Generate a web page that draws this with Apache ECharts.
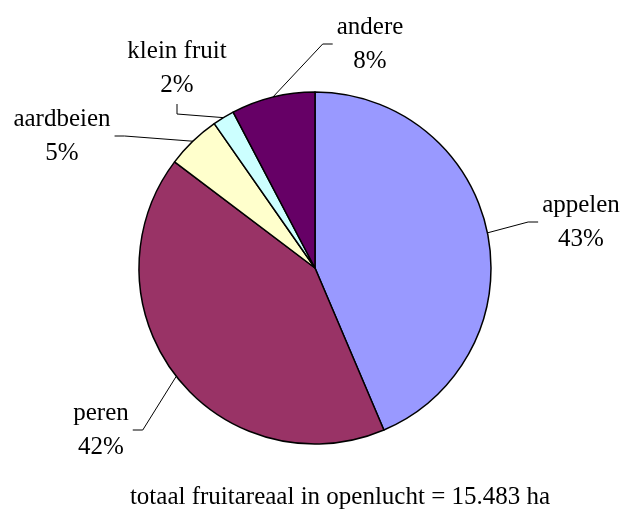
<!DOCTYPE html>
<html>
<head>
<meta charset="utf-8">
<script src="https://cdn.jsdelivr.net/npm/echarts@6/dist/echarts.min.js"></script>
<style>
  html, body { margin: 0; padding: 0; background: #fff; }
  #chart { width: 627px; height: 513px; }
</style>
</head>
<body>
<div id="chart"></div>
<script>
const categories = ['appelen', 'peren', 'aardbeien', 'klein fruit', 'andere']
const shares = [43.6, 41.7, 5.0, 2.0, 7.7]
const colors = ['#9999ff', '#993366', '#ffffcc', '#ccffff', '#660066']
const caption = 'totaal fruitareaal in openlucht = 15.483 ha'

// where each label sits relative to the pie centre, and the side its leader line joins
const labelSpots = [
  [266, -46, 'left'],
  [-214, 162, 'right'],
  [-253, -132, 'right'],
  [-138, -200, 'bottom'],
  [55, -224, 'left']
]
const cx = 315
const cy = 268
const font = '"Liberation Serif", "Times New Roman", serif'

const chart = echarts.init(document.getElementById('chart'))

const option = {
  animation: false,
  color: colors,
  graphic: [{
    type: 'text',
    x: 340,
    y: 497,
    style: {
      text: caption,
      fontFamily: font,
      fontSize: 25,
      fill: '#000',
      align: 'center',
      verticalAlign: 'middle'
    }
  }],
  series: [{
    type: 'pie',
    center: [cx, cy],
    radius: 176,
    startAngle: 90,
    clockwise: true,
    percentPrecision: 0,
    itemStyle: {
      borderColor: '#000',
      borderWidth: 1.5
    },
    label: {
      show: true,
      position: 'outside',
      formatter: '{b}\n{d}%',
      fontFamily: font,
      fontSize: 25,
      lineHeight: 34,
      color: '#000'
    },
    labelLine: {
      show: true,
      length: 15,
      length2: 10,
      lineStyle: {
        color: '#000',
        width: 1
      }
    },
    labelLayout: function(p) {
      const s = labelSpots[p.dataIndex]
      const x = cx + s[0]
      const y = cy + s[1]
      const w = p.labelRect.width
      const h = p.labelRect.height
      const start = p.labelLinePoints ? p.labelLinePoints[0] : [x, y]
      let end, bend
      if (s[2] === 'left') {
        end = [x - w / 2 - 4, y]
        bend = [end[0] - 10, y]
      } else if (s[2] === 'right') {
        end = [x + w / 2 + 4, y]
        bend = [end[0] + 10, y]
      } else {
        end = [x, y + h / 2 + 2]
        bend = [x, end[1] + 10]
      }
      return {
        x: x,
        y: y,
        align: 'center',
        verticalAlign: 'middle',
        labelLinePoints: [start, bend, end]
      }
    },
    emphasis: { disabled: true },
    data: categories.map((name, i) => ({ name: name, value: shares[i] }))
  }]
}

chart.setOption(option)
</script>
</body>
</html>
